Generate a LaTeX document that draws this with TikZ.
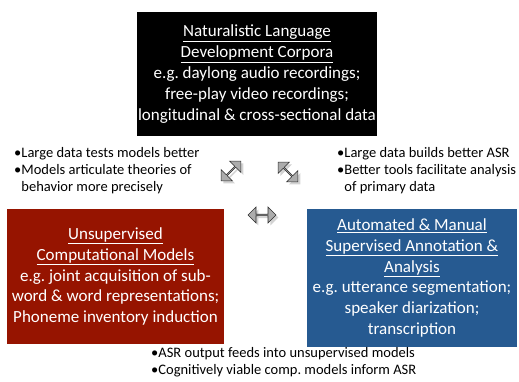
\documentclass[tikz,border=0pt]{standalone}
\usepackage{fontspec}
\setmainfont{Carlito}
\frenchspacing
\usetikzlibrary{shapes.arrows,shadows}
\definecolor{boxred}{RGB}{150,20,0}
\definecolor{boxblue}{RGB}{38,90,145}
\begin{document}
\begin{tikzpicture}[x=1pt,y=-1pt,
  box/.style={inner sep=0pt, align=center, text=white, font=\fontsize{17}{20.8}\selectfont},
  note/.style={inner sep=0pt, align=left, anchor=north west, font=\fontsize{14.5}{17.3}\selectfont},
  link/.style={double arrow, double arrow head extend=3pt, minimum height=28pt, minimum width=16pt,
    inner sep=0pt, fill=gray!65, draw=gray!35!black, line width=0.6pt, drop shadow={opacity=0.35}}]
\useasboundingbox (0,0) rectangle (519,381);
% corpora, models and annotation
\node[box, fill=black, minimum width=240pt, minimum height=124pt] (corpora) at (257,74)
  {\underline{Naturalistic Language}\\\underline{Development Corpora}\\e.g. daylong audio recordings;\\free-play video recordings;\\longitudinal \& cross-sectional data};
\node[box, fill=boxred, minimum width=217pt, minimum height=135pt] (models) at (115.5,276.5)
  {\underline{Unsupervised}\\\underline{Computational Models}\\e.g. joint acquisition of sub-\\word \& word representations;\\Phoneme inventory induction};
\node[box, fill=boxblue, minimum width=210pt, minimum height=138pt] (annot) at (412,278)
  {\underline{Automated \& Manual}\\\underline{Supervised Annotation \&}\\\underline{Analysis}\\e.g. utterance segmentation;\\speaker diarization;\\transcription};
% links between them
\node[link, rotate=45] (lnkl) at (231,171) {};
\node[link, rotate=-45] (lnkr) at (288,172) {};
\node[link] (lnkb) at (262,215) {};
% notes
\node[note] (notel) at (14,147)
  {•Large data tests models better\\•Models articulate theories of\\\phantom{•}behavior more precisely};
\node[note] (noter) at (337,147)
  {•Large data builds better ASR\\•Better tools facilitate analysis\\\phantom{•}of primary data};
\node[note] (noteb) at (151,347)
  {•ASR output feeds into unsupervised models\\•Cognitively viable comp. models inform ASR};
\end{tikzpicture}
\end{document}
